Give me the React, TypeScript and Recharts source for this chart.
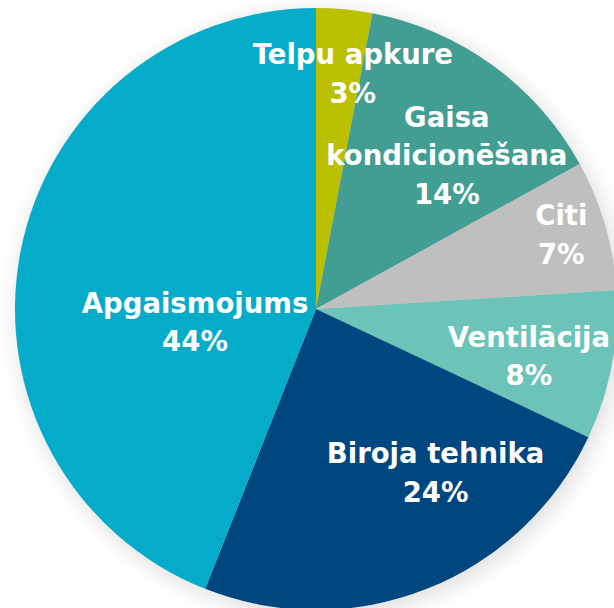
import { Cell, Pie, PieChart } from "recharts";

// Elektroenerģijas patēriņa sadalījums birojā (%)
const categories = [
  "Telpu apkure",
  "Gaisa kondicionēšana",
  "Citi",
  "Ventilācija",
  "Biroja tehnika",
  "Apgaismojums",
];
const shares = [3, 14, 7, 8, 24, 44];
const labelLines = [
  ["Telpu apkure"],
  ["Gaisa", "kondicionēšana"],
  ["Citi"],
  ["Ventilācija"],
  ["Biroja tehnika"],
  ["Apgaismojums"],
];
const colors = ["#BBC000", "#429E93", "#BFBFBF", "#6CC3B8", "#00467F", "#05ACCA"];

const data = categories.map((name, i) => ({ name, value: shares[i] }));

// label placement: mid-angle at 0.7 R, then nudged like Excel's best fit
const nudges: [number, number][] = [
  [17, -26],
  [7, 16],
  [43, -16],
  [6, 7],
  [42, -33],
  [86, 52],
];

const W = 614;
const H = 608;
const CX = 316;
const CY = 309;
const R = 301;
const LINE = 38.5;
const RAD = Math.PI / 180;

function SliceLabel(props: any) {
  const { cx, cy, midAngle, outerRadius, index, value } = props;
  const r = outerRadius * 0.7;
  const x = cx + r * Math.cos(-midAngle * RAD) + nudges[index][0];
  const y = cy + r * Math.sin(-midAngle * RAD) + nudges[index][1];
  const lines = [...labelLines[index], `${value}%`];
  const first = y - ((lines.length - 1) * LINE) / 2 + 10.5;
  return (
    <text
      x={x}
      y={first}
      textAnchor="middle"
      fill="#FFFFFF"
      fontFamily="'DejaVu Sans', sans-serif"
      fontWeight="bold"
      fontSize={27.5}
    >
      {lines.map((t, i) => (
        <tspan key={i} x={x} y={first + i * LINE}>
          {t}
        </tspan>
      ))}
    </text>
  );
}

export default function App() {
  return (
    <div style={{ position: "absolute", left: 0, top: 0, width: W, height: H, background: "#FFFFFF" }}>
      <style>{`.pie-shadow { filter: blur(9px); opacity: 0.38; }`}</style>
      <PieChart width={W} height={H} margin={{ top: 0, right: 0, bottom: 0, left: 0 }}>
        <Pie
          className="pie-shadow"
          data={data}
          dataKey="value"
          cx={CX + 4}
          cy={CY + 5}
          outerRadius={R}
          startAngle={90}
          endAngle={-270}
          stroke="none"
          fill="#000000"
          isAnimationActive={false}
          legendType="none"
        />
        <Pie
          data={data}
          dataKey="value"
          nameKey="name"
          cx={CX}
          cy={CY}
          outerRadius={R}
          startAngle={90}
          endAngle={-270}
          stroke="none"
          label={SliceLabel}
          labelLine={false}
          isAnimationActive={false}
        >
          {data.map((d, i) => (
            <Cell key={d.name} fill={colors[i]} />
          ))}
        </Pie>
      </PieChart>
    </div>
  );
}
